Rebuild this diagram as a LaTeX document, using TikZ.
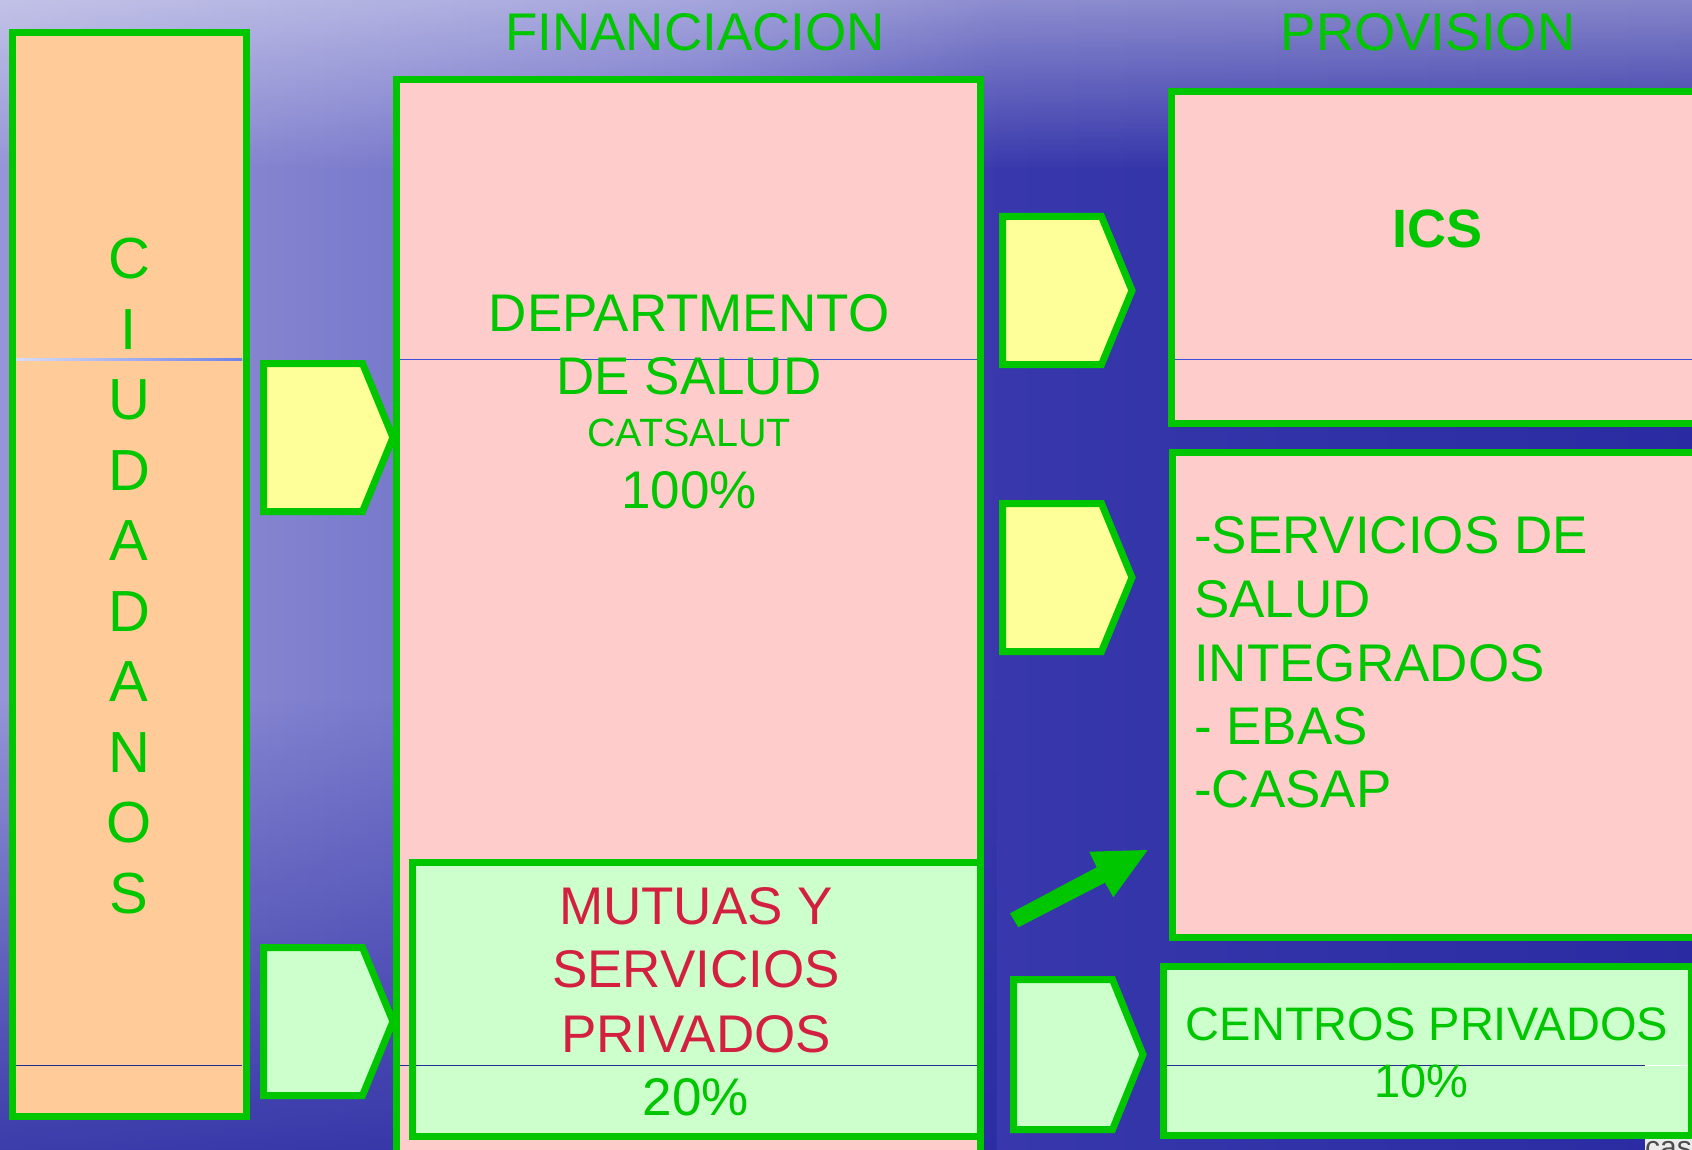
\documentclass[tikz,border=0pt]{standalone}
\usepackage{fontspec}
\setmainfont{Liberation Sans}
\usetikzlibrary{fadings}
\definecolor{gr}{RGB}{0,198,0}
\definecolor{pinkf}{RGB}{255,204,204}
\definecolor{orangef}{RGB}{255,204,153}
\definecolor{yellowf}{RGB}{255,255,153}
\definecolor{lgreenf}{RGB}{204,255,204}
\definecolor{redt}{RGB}{212,32,64}
\definecolor{bgA}{RGB}{150,150,215}
\definecolor{bgB}{RGB}{100,100,196}
\definecolor{bgC}{RGB}{56,56,172}
\definecolor{bgD}{RGB}{42,42,162}
\definecolor{lineA}{RGB}{215,220,245}
\definecolor{lineB}{RGB}{110,130,232}
\definecolor{lineC}{RGB}{60,80,215}
\definecolor{navy}{RGB}{35,45,150}
\tikzfading[name=fadetop, top color=transparent!0, bottom color=transparent!100]
\tikzfading[name=fadebottom, top color=transparent!100, bottom color=transparent!0]
\tikzset{
  box/.style={draw=gr, line width=7pt, anchor=north west, inner sep=0pt, outer sep=0pt},
  chevbox/.style={draw=gr, line width=7pt, line join=miter},
  txt/.style={text=gr, inner sep=0pt, font=\fontsize{53}{60}\selectfont},
  redtxt/.style={txt, text=redt},
  smalltxt/.style={txt, font=\fontsize{47}{54}\selectfont},
}
\newcommand\chevron[5]{%
  \draw[chevbox, fill=#5] (#2,#3) -- ({#2+99},#3) -- ({#2+129.5},{(#3+#4)/2}) -- ({#2+99},#4) -- (#2,#4) -- cycle;
  \coordinate (#1) at ({#2+129.5},{(#3+#4)/2});
}
\begin{document}
\begin{tikzpicture}[x=1pt,y=-1pt]
\useasboundingbox (0,0) rectangle (1692,1150);
% background
\fill[left color=bgA, right color=bgB] (-10,-10) rectangle (701,1160);
\fill[left color=bgB, right color=bgC] (700,-10) rectangle (1001,1160);
\fill[left color=bgC, right color=bgD] (1000,-10) rectangle (1702,1160);
\fill[white, path fading=fadetop, opacity=0.45] (-10,-10) rectangle (1702,170);
\fill[bgD, path fading=fadebottom, opacity=0.85] (-10,700) rectangle (1000,1160);

% boxes
\node[box, fill=orangef, minimum width=233.5pt, minimum height=1083.5pt] (ciud) at (12.5,32.5) {};
\node[box, fill=pinkf, minimum width=584pt, minimum height=1200pt] (dept) at (396.5,79.5) {};
\node[box, fill=lgreenf, minimum width=568pt, minimum height=274pt] (mutuas) at (412.5,862.5) {};
\node[box, fill=pinkf, minimum width=560pt, minimum height=332pt] (ics) at (1171.5,91.5) {};
\node[box, fill=pinkf, minimum width=560pt, minimum height=485pt] (serv) at (1172.5,452.5) {};
\node[box, fill=lgreenf, minimum width=528pt, minimum height=169pt] (centros) at (1163,966) {};

% thin guide lines
\shade[left color=lineA, right color=lineB] (16,358.8) rectangle (242,360.3);
\fill[lineC] (400,358.8) rectangle (977,360.3);
\fill[lineC] (1175,358.8) rectangle (1692,360.3);
\fill[navy] (16,1064.8) rectangle (242,1066.3);
\fill[navy] (400,1064.8) rectangle (409,1066.3);
\fill[navy] (416,1064.8) rectangle (977,1066.3);
\fill[navy] (1166.5,1064.8) rectangle (1645,1066.3);
\fill[white] (1645,1064.8) rectangle (1687.5,1066.3);

% chevrons
\chevron{chA}{263.5}{363.5}{511.5}{yellowf}
\chevron{chB}{263.5}{947.5}{1095.5}{lgreenf}
\chevron{chC}{1002.5}{216.5}{364.5}{yellowf}
\chevron{chD}{1002.5}{503.5}{651.5}{yellowf}
\chevron{chE}{1013.5}{979.5}{1129.5}{lgreenf}

% diagonal arrow
\coordinate (arrtail) at (1014,920);
\coordinate (arrtip) at (1147.7,850);
\fill[gr] (1010,913.3) -- (1096.7,867.3) -- (1089.3,851.7) -- (arrtip) -- (1113.3,897.3) -- (1105,882.7) -- (1018.3,927.3) -- cycle;

% headers
\node[txt] (fin) at (695,32.5) {FINANCIACION};
\node[txt] (prov) at (1428,32.5) {PROVISION};

% ciudadanos
\node[txt, font=\fontsize{58}{70.5}\selectfont, align=center] (ciudtxt) at (129,576) {C\\I\\U\\D\\A\\D\\A\\N\\O\\S};

% departamento
\node[txt] (dep1) at (689,313) {DEPARTMENTO};
\node[txt] (dep2) at (689,376) {DE SALUD};
\node[txt, font=\fontsize{39.5}{44}\selectfont] (dep3) at (689,433) {CATSALUT};
\node[txt] (dep4) at (689,490) {100\%};

% ICS
\node[txt, font=\bfseries\fontsize{54}{60}\selectfont] (icstxt) at (1437,229) {ICS};

% servicios
\node[txt, anchor=west] (s1) at (1194,535) {-SERVICIOS DE};
\node[txt, anchor=west] (s2) at (1194,599) {SALUD};
\node[txt, anchor=west] (s3) at (1194,663) {INTEGRADOS};
\node[txt, anchor=west] (s4) at (1194,726) {- EBAS};
\node[txt, anchor=west] (s5) at (1194,789) {-CASAP};

% mutuas
\node[redtxt] (m1) at (696,906) {MUTUAS Y};
\node[redtxt] (m2) at (696,969) {SERVICIOS};
\node[redtxt] (m3) at (696,1034) {PRIVADOS};
\node[txt] (m4) at (696,1097) {20\%};

% centros
\node[smalltxt] (c1) at (1427,1024) {CENTROS PRIVADOS};
\node[smalltxt] (c2) at (1421.5,1081) {10\%};

% corner fragment
\begin{scope}
\clip (1645,1139) rectangle (1692,1150);
\fill[white!92!black] (1645,1139) rectangle (1692,1150);
\node[anchor=north west, inner sep=0pt, text=black!70, font=\fontsize{30}{34}\selectfont] (cas) at (1645,1141.5) {cas};
\end{scope}
\end{tikzpicture}
\end{document}
